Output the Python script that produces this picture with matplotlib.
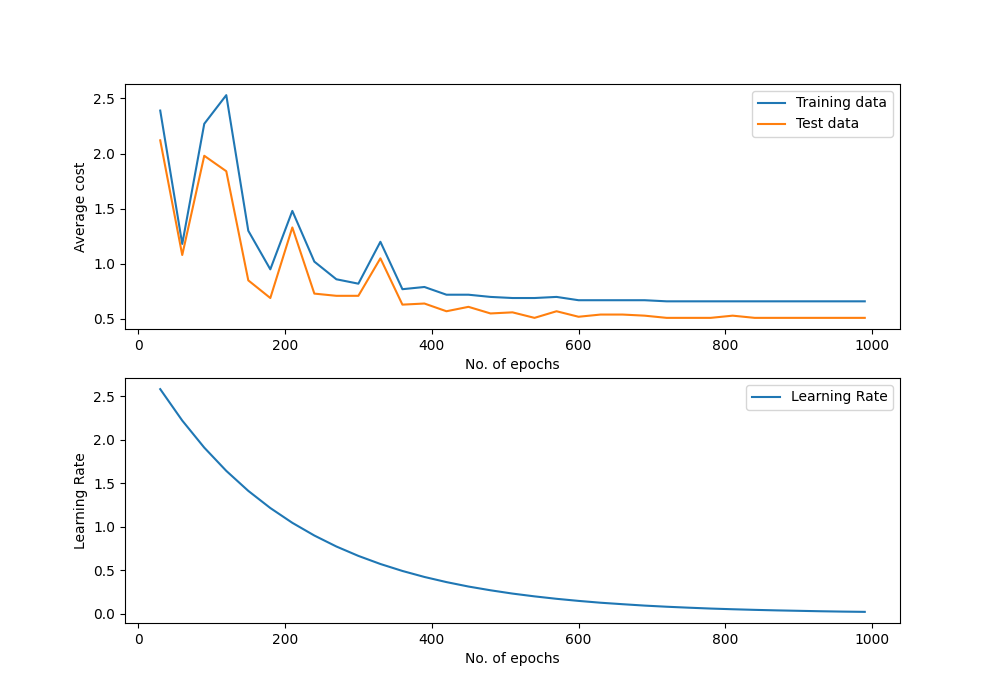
import matplotlib
matplotlib.use("Agg")
import matplotlib.pyplot as plt

epochs = list(range(30, 1000, 30))

training_cost = [2.39, 1.18, 2.27, 2.53, 1.30, 0.95, 1.48, 1.02, 0.86, 0.82,
                 1.20, 0.77, 0.79, 0.72, 0.72, 0.70, 0.69, 0.69, 0.70, 0.67,
                 0.67, 0.67, 0.67, 0.66, 0.66, 0.66, 0.66, 0.66, 0.66, 0.66,
                 0.66, 0.66, 0.66]
test_cost = [2.12, 1.08, 1.98, 1.84, 0.85, 0.69, 1.33, 0.73, 0.71, 0.71,
             1.05, 0.63, 0.64, 0.57, 0.61, 0.55, 0.56, 0.51, 0.57, 0.52,
             0.54, 0.54, 0.53, 0.51, 0.51, 0.51, 0.53, 0.51, 0.51, 0.51,
             0.51, 0.51, 0.51]
learning_rate = [2.580, 2.219, 1.908, 1.641, 1.411, 1.214, 1.044, 0.898, 0.772, 0.664,
                 0.571, 0.491, 0.422, 0.363, 0.312, 0.269, 0.231, 0.199, 0.171, 0.147,
                 0.126, 0.109, 0.093, 0.080, 0.069, 0.059, 0.051, 0.044, 0.038, 0.033,
                 0.028, 0.024, 0.021]

fig, (ax1, ax2) = plt.subplots(2, 1, figsize=(10, 7), dpi=100)

ax1.plot(epochs, training_cost, label="Training data")
ax1.plot(epochs, test_cost, label="Test data")
ax1.set_xlabel("No. of epochs")
ax1.set_ylabel("Average cost")
ax1.legend(loc="upper right")

ax2.plot(epochs, learning_rate, label="Learning Rate")
ax2.set_xlabel("No. of epochs")
ax2.set_ylabel("Learning Rate")
ax2.legend(loc="upper right")

plt.savefig("out.png")
